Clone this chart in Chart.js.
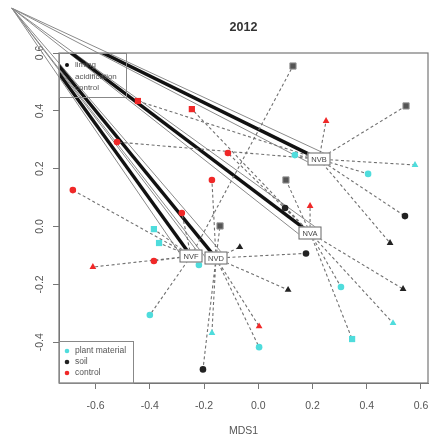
<!DOCTYPE html>
<html><head><meta charset="utf-8">
<script src="https://cdn.jsdelivr.net/npm/chart.js@4.4.1/dist/chart.umd.min.js"></script>
<style>html,body{margin:0;padding:0;background:#fff}</style>
</head><body>
<canvas id="c" width="430" height="441"></canvas>
<script>
// ---------- data ----------
const groupNames = ['NVA', 'NVB', 'NVD', 'NVF'];
const centroidX = [0.191, 0.224, -0.156, -0.248];
const centroidY = [-0.022, 0.233, -0.109, -0.102];

// common origin of the wedge lines (off the plot, top-left)
const apexX = -0.909;
const apexY = 0.755;

const xTickValues = [-0.6, -0.4, -0.2, 0.0, 0.2, 0.4, 0.6];
const yTickValues = [-0.4, -0.2, 0.0, 0.2, 0.4, 0.6];

const siteGroup = [
  'NVB','NVB','NVB','NVB','NVB','NVB','NVB','NVB','NVB',
  'NVA','NVA','NVA','NVA','NVA','NVA','NVA','NVA','NVA',
  'NVF','NVF','NVF','NVF','NVF','NVF','NVF','NVF','NVF',
  'NVD','NVD','NVD','NVD','NVD','NVD','NVD','NVD','NVD'
];
const siteX = [
  0.545, 0.250, -0.444, -0.521, 0.135, 0.405, 0.578, 0.486, 0.541,
  -0.245, -0.112, 0.191, 0.102, 0.099, 0.534, 0.305, 0.346, 0.497,
  0.128, -0.684, -0.282, -0.385, -0.366, -0.385, -0.610, -0.400, -0.219,
  -0.171, -0.141, -0.068, 0.176, 0.110, -0.204, -0.171, 0.003, 0.003
];
const siteY = [
  0.417, 0.365, 0.434, 0.292, 0.247, 0.182, 0.213, -0.057, 0.036,
  0.406, 0.254, 0.071, 0.161, 0.064, -0.216, -0.209, -0.389, -0.334,
  0.555, 0.126, 0.047, -0.009, -0.057, -0.119, -0.140, -0.306, -0.133,
  0.161, 0.002, -0.071, -0.093, -0.219, -0.494, -0.368, -0.345, -0.417
];
const siteMaterial = [
  'soil','control','control','control','plant material','plant material','plant material','soil','soil',
  'control','control','control','soil','soil','soil','plant material','plant material','plant material',
  'soil','control','control','plant material','plant material','control','control','plant material','plant material',
  'control','soil','soil','soil','soil','soil','plant material','control','plant material'
];
const siteTreatment = [
  'control','acidification','control','liming','liming','liming','acidification','acidification','liming',
  'control','liming','acidification','control','liming','acidification','liming','control','acidification',
  'control','liming','liming','control','control','liming','acidification','liming','liming',
  'liming','control','acidification','liming','acidification','liming','acidification','acidification','liming'
];

const materials = ['plant material', 'soil', 'control'];
const treatments = ['liming', 'acidification', 'control'];

// ---------- styles ----------
const FONT = '"Liberation Sans", Arial, Helvetica, sans-serif';
const materialColor = { 'plant material': '#4fdcdc', 'soil': '#222222', 'control': '#f02828' };
const treatmentShape = { 'liming': 'circle', 'acidification': 'triangle', 'control': 'rect' };
const treatmentRadius = { 'liming': 3.3, 'acidification': 3.9, 'control': 4.4 };

// ---------- datasets ----------
const datasets = [];

// points (first => drawn on top)
materials.forEach(m => {
  treatments.forEach(t => {
    const pts = [];
    siteX.forEach((sx, i) => {
      if (siteMaterial[i] === m && siteTreatment[i] === t) pts.push({ x: sx, y: siteY[i] });
    });
    if (!pts.length) return;
    const isSoilSq = (m === 'soil' && t === 'control');
    datasets.push({
      type: 'scatter',
      data: pts,
      pointStyle: treatmentShape[t],
      pointRadius: treatmentRadius[t],
      backgroundColor: isSoilSq ? '#555' : materialColor[m],
      borderColor: isSoilSq ? '#999' : materialColor[m],
      borderWidth: isSoilSq ? 1 : 0,
      showLine: false
    });
  });
});

// spider lines (dashed) centroid -> site
groupNames.forEach((g, gi) => {
  const d = [];
  siteX.forEach((sx, i) => {
    if (siteGroup[i] !== g) return;
    d.push({ x: centroidX[gi], y: centroidY[gi] });
    d.push({ x: sx, y: siteY[i] });
    d.push({ x: null, y: null });
  });
  datasets.push({
    type: 'scatter', data: d, showLine: true, pointRadius: 0,
    borderColor: '#707070', borderWidth: 1.1, borderDash: [3, 2.5], spanGaps: false
  });
});

// wedges: thick black line from the apex to each centroid (clipped)
groupNames.forEach((g, gi) => {
  datasets.push({
    type: 'scatter', showLine: true, pointRadius: 0,
    data: [{ x: apexX, y: apexY }, { x: centroidX[gi], y: centroidY[gi] }],
    borderColor: '#111', borderWidth: 3.4
  });
});
// wedges: thin grey outline (not clipped)
const wedgeHalf = 0.02;
groupNames.forEach((g, gi) => {
  datasets.push({
    type: 'scatter', showLine: true, pointRadius: 0, clip: false,
    data: [
      { x: centroidX[gi] + wedgeHalf, y: centroidY[gi] + wedgeHalf },
      { x: apexX, y: apexY },
      { x: centroidX[gi] - wedgeHalf, y: centroidY[gi] - wedgeHalf }
    ],
    borderColor: '#8a8a8a', borderWidth: 1
  });
});

// ---------- decoration plugin: frame, centroid labels, legends ----------
const decor = {
  id: 'decor',
  afterDatasetsDraw(chart) {
    const { ctx, chartArea: a, scales: { x, y } } = chart;
    ctx.save();
    // centroid label boxes
    ctx.font = '7.5px ' + FONT;
    ctx.textAlign = 'center';
    ctx.textBaseline = 'middle';
    groupNames.forEach((name, i) => {
      const px = Math.round(x.getPixelForValue(centroidX[i]));
      const py = Math.round(y.getPixelForValue(centroidY[i]));
      const w = 23, h = 13;
      ctx.fillStyle = '#fff';
      ctx.fillRect(px - w / 2, py - h / 2, w, h);
      ctx.strokeStyle = '#666';
      ctx.lineWidth = 1;
      ctx.strokeRect(px - w / 2 + 0.5, py - h / 2 + 0.5, w - 1, h - 1);
      ctx.fillStyle = '#444';
      ctx.fillText(name, px, py + 0.5);
    });
    // frame
    ctx.strokeStyle = '#777';
    ctx.lineWidth = 1.2;
    ctx.strokeRect(a.left, a.top, a.right - a.left, a.bottom - a.top);

    // legend 1 (top-left): treatments
    ctx.lineWidth = 1;
    ctx.strokeStyle = '#888';
    ctx.strokeRect(a.left + 0.5, a.top + 0.5, 67, 44);
    ctx.font = '8px ' + FONT;
    ctx.textAlign = 'left';
    ctx.fillStyle = '#555';
    treatments.forEach((t, i) => {
      const ty = a.top + 12 + i * 11.5;
      ctx.fillText(t, a.left + 16, ty);
    });
    ctx.fillStyle = '#111';
    ctx.beginPath();
    ctx.arc(a.left + 8, a.top + 12, 2, 0, Math.PI * 2);
    ctx.fill();

    // legend 2 (bottom-left): materials
    ctx.strokeStyle = '#888';
    ctx.strokeRect(a.left + 0.5, a.bottom - 42 + 0.5, 74, 42);
    ctx.font = '8.5px ' + FONT;
    materials.forEach((m, i) => {
      const ty = a.bottom - 32 + i * 11;
      ctx.fillStyle = materialColor[m];
      ctx.beginPath();
      ctx.arc(a.left + 8, ty, 2.3, 0, Math.PI * 2);
      ctx.fill();
      ctx.fillStyle = '#555';
      ctx.fillText(m, a.left + 16, ty);
    });
    ctx.restore();
  }
};

const fmt = v => (Math.abs(v) < 1e-9 ? '0.0' : Number(v).toFixed(1));

new Chart(document.getElementById('c'), {
  type: 'scatter',
  data: { datasets },
  options: {
    responsive: false,
    devicePixelRatio: 1,
    animation: false,
    events: [],
    layout: { autoPadding: false, padding: { left: 0, right: 2, top: 0, bottom: 0 } },
    plugins: {
      legend: { display: false },
      tooltip: { enabled: false },
      title: {
        display: true, text: '2012', fullSize: false, color: '#333',
        font: { family: FONT, size: 12.5, weight: 'bold' },
        padding: { top: 20.5, bottom: 17.5 }
      }
    },
    scales: {
      x: {
        type: 'linear', min: -0.735, max: 0.626,
        afterBuildTicks(s) { s.ticks = xTickValues.map(v => ({ value: v })); },
        ticks: { callback: fmt, color: '#555', autoSkip: false,
                 font: { family: FONT, size: 10.5 }, padding: 11, maxRotation: 0 },
        grid: { drawOnChartArea: false, drawTicks: true, tickLength: 6, color: '#777' },
        border: { color: '#777' },
        title: { display: true, text: 'MDS1', color: '#555', font: { family: FONT, size: 10.5 },
                 padding: { top: 0, bottom: 4 } },
        afterFit(s) { s.height = 58; s.paddingLeft = 0; s.paddingRight = 0; }
      },
      y: {
        type: 'linear', min: -0.541, max: 0.6,
        afterBuildTicks(s) { s.ticks = yTickValues.map(v => ({ value: v })); },
        ticks: { callback: fmt, color: '#555', autoSkip: false,
                 font: { family: FONT, size: 10.5 }, minRotation: 90, maxRotation: 90,
                 crossAlign: 'center', padding: 3.5 },
        grid: { drawOnChartArea: false, drawTicks: true, tickLength: 6, color: '#777' },
        border: { color: '#777' },
        afterFit(s) { s.width = 59; s.paddingTop = 0; s.paddingBottom = 0; }
      }
    }
  },
  plugins: [decor]
});
</script>
</body></html>
